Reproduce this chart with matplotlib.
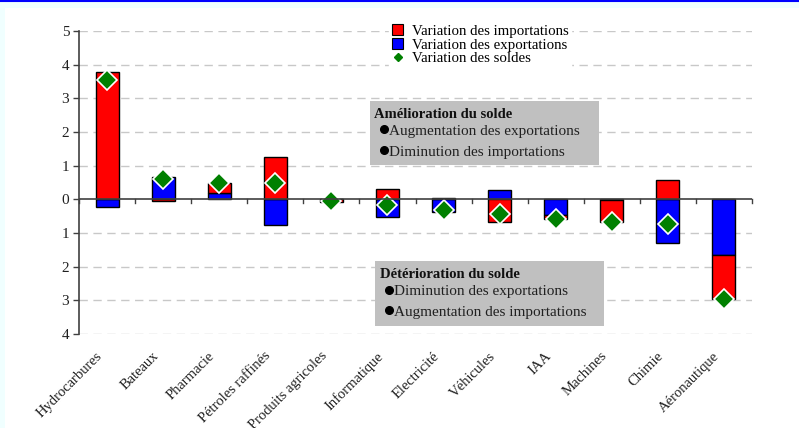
import matplotlib
matplotlib.use("Agg")
import matplotlib.pyplot as plt
import matplotlib.transforms as mtransforms
from matplotlib.patches import Rectangle, Patch
from matplotlib.lines import Line2D
import numpy as np

plt.rcParams['font.family'] = ['Liberation Serif', 'DejaVu Serif']

categories = ['Hydrocarbures', 'Bateaux', 'Pharmacie', 'Pétroles raffinés',
              'Produits agricoles', 'Informatique', 'Electricité', 'Véhicules',
              'IAA', 'Machines', 'Chimie', 'Aéronautique']
imports_var = [3.79, -0.06, 0.29, 1.27, -0.07, 0.32, 0.03, -0.67, -0.12, -0.64, 0.56, -1.31]
exports_var = [-0.23, 0.65, 0.20, -0.77, 0.00, -0.51, -0.37, 0.27, -0.46, -0.03, -1.29, -1.65]
soldes_var = [3.53, 0.60, 0.48, 0.49, -0.06, -0.18, -0.33, -0.43, -0.57, -0.67, -0.74, -2.95]
yticks = [-4, -3, -2, -1, 0, 1, 2, 3, 4, 5]
ytick_labels = ['4', '3', '2', '1', '0', '1', '2', '3', '4', '5']

W, H = 799, 428
fig = plt.figure(figsize=(W / 100, H / 100), dpi=100)
fig.patch.set_facecolor('#f0ffff')
fig.add_artist(Rectangle((5 / W, 0), 1, 1 - 8 / H, transform=fig.transFigure,
                         facecolor='white', edgecolor='none', zorder=0))
fig.add_artist(Line2D([0, 1], [1 - 1 / H, 1 - 1 / H], transform=fig.transFigure,
                      color='#0000ff', lw=1.5))

ax = fig.add_axes([79 / W, 1 - 334 / H, (752 - 79) / W, (334 - 31) / H])
ax.set_facecolor('none')

x = np.arange(len(categories))
exp = np.array(exports_var)
imp = np.array(imports_var)
red_bottom = np.where(np.sign(imp) == np.sign(exp), exp, 0.0)
bw = 0.41
ax.bar(x, exp, bw, color='#0000ff', edgecolor='black', linewidth=1.0, zorder=3)
ax.bar(x, imp, bw, bottom=red_bottom, color='#ff0000', edgecolor='black', linewidth=1.0, zorder=3)
ax.plot(x, soldes_var, linestyle='none', marker='D', markersize=10.5,
        markerfacecolor='#008000', markeredgecolor='white', markeredgewidth=1.2, zorder=4)

ax.set_xlim(-0.5, len(categories) - 0.5)
ax.set_ylim(-4, 5)
for v in yticks:
    if v != 0:
        ax.axhline(v, color='#c8c8c8', lw=1, ls=(0, (6, 4)), zorder=1)
ax.axhline(0, color='#404040', lw=1.2, zorder=5)
for xb in np.arange(-0.5, len(categories), 1.0):
    ax.plot([xb, xb], [0, -0.12], color='#404040', lw=1, zorder=5, clip_on=False)

for s in ['top', 'right', 'bottom']:
    ax.spines[s].set_visible(False)
ax.spines['left'].set_color('#404040')
ax.spines['left'].set_linewidth(1.2)
ax.set_yticks(yticks)
ax.set_yticklabels(ytick_labels, fontsize=11, color='#202020')
ax.tick_params(axis='y', direction='out', length=4, width=1, color='#404040', pad=3)
ax.set_xticks(x)
ax.set_xticklabels(categories, rotation=45, ha='right', va='top', fontsize=10.5,
                   color='#202020', rotation_mode='anchor')
ax.tick_params(axis='x', length=0, pad=14)
offset = mtransforms.ScaledTranslation(-11 / 100, 4 / 100, fig.dpi_scale_trans)
for lbl in ax.get_xticklabels():
    lbl.set_transform(lbl.get_transform() + offset)

handles = [Patch(facecolor='#ff0000', edgecolor='black', lw=0.8),
           Patch(facecolor='#0000ff', edgecolor='black', lw=0.8),
           Line2D([], [], ls='none', marker='D', markersize=4, markerfacecolor='#008000',
                  markeredgecolor='#008000')]
leg = fig.legend(handles, ['Variation des importations', 'Variation des exportations',
                           'Variation des soldes'],
                 loc='upper left', bbox_to_anchor=(382 / W, 1 - 14 / H), fontsize=10.7,
                 frameon=True, framealpha=1, edgecolor='white', facecolor='white',
                 handlelength=0.7, handleheight=0.7, handletextpad=0.6,
                 labelspacing=0.02, borderpad=0.2, fancybox=False)
leg.set_zorder(6)


def box(x0, y0, x1, y1, title, lines, tx, bx):
    fig.add_artist(Rectangle((x0 / W, 1 - y1 / H), (x1 - x0) / W, (y1 - y0) / H,
                             transform=fig.transFigure, facecolor='#c0c0c0',
                             edgecolor='none', zorder=7))
    fig.text(tx / W, 1 - (y0 + 13) / H, title, fontsize=10.5, fontweight='bold',
             va='center', ha='left', zorder=8, color='#101010')
    for i, ln in enumerate(lines):
        yy = 1 - (y0 + 31 + 20.5 * i) / H
        fig.add_artist(Line2D([(bx + 3) / W], [yy + 2.5 / H], transform=fig.transFigure,
                              ls='none', marker='o', markersize=5.5, color='black', zorder=8))
        fig.text((bx + 8) / W, yy, ln, fontsize=11, va='center', ha='left', zorder=8,
                 color='#202020')


box(370, 101, 599, 165, 'Amélioration du solde',
    ['Augmentation des exportations', 'Diminution des importations'], 374, 381)
box(375, 261, 604, 326, 'Détérioration du solde',
    ['Diminution des exportations', 'Augmentation des importations'], 380, 386)

fig.savefig('out.png', dpi=100, facecolor=fig.get_facecolor())
